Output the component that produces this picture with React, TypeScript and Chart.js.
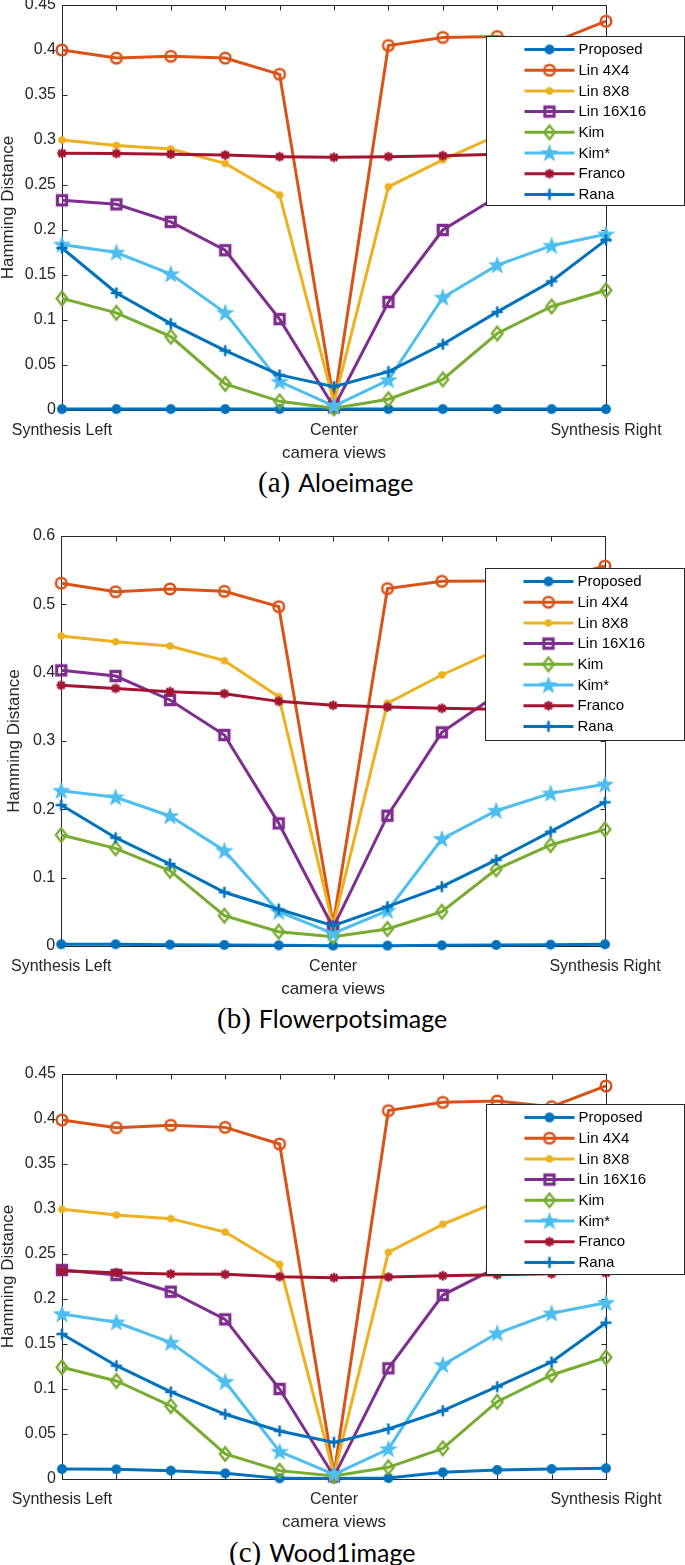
import React, { useEffect, useRef } from 'react';
import { Chart, registerables } from 'chart.js';

Chart.register(...registerables);

// ---------- data ----------
const viewLabels = ['Synthesis Left', '', '', '', '', 'Center', '', '', '', '', 'Synthesis Right'];
const seriesNames = ['Proposed', 'Lin 4X4', 'Lin 8X8', 'Lin 16X16', 'Kim', 'Kim*', 'Franco', 'Rana'];
const seriesColors = ['#0072BD', '#D95319', '#EDB120', '#7E2F8E', '#77AC30', '#4DBEEE', '#A2142F', '#0072BD'];
const seriesMarkers = ['dot', 'ring', 'smalldot', 'square', 'diamond', 'pentagram', 'asterisk', 'plus'];

// (a) Aloeimage
const aloeProposed = [0.001, 0.001, 0.001, 0.001, 0.001, 0.001, 0.001, 0.001, 0.001, 0.001, 0.001];
const aloeLin4 = [0.4, 0.391, 0.393, 0.391, 0.373, 0.008, 0.405, 0.414, 0.415, 0.408, 0.432];
const aloeLin8 = [0.3, 0.294, 0.29, 0.274, 0.239, 0.008, 0.248, 0.278, 0.305, 0.315, 0.322];
const aloeLin16 = [0.233, 0.2285, 0.209, 0.1775, 0.101, 0.003, 0.12, 0.2, 0.237, 0.24, 0.243];
const aloeKim = [0.124, 0.108, 0.0815, 0.029, 0.0096, 0.002, 0.012, 0.034, 0.085, 0.115, 0.133];
const aloeKimStar = [0.184, 0.175, 0.151, 0.108, 0.0315, 0.0044, 0.0333, 0.125, 0.161, 0.1826, 0.1952];
const aloeFranco = [0.2852, 0.285, 0.2841, 0.2833, 0.2815, 0.2807, 0.2815, 0.2826, 0.2841, 0.285, 0.286];
const aloeRana = [0.18, 0.13, 0.096, 0.066, 0.039, 0.026, 0.0426, 0.073, 0.109, 0.143, 0.189];

// (b) Flowerpotsimage
const flowerProposed = [0.0025, 0.0025, 0.002, 0.0015, 0.001, 0.0005, 0.0005, 0.001, 0.0015, 0.002, 0.0025];
const flowerLin4 = [0.531, 0.5185, 0.5225, 0.519, 0.4966, 0.032, 0.523, 0.5337, 0.534, 0.535, 0.556];
const flowerLin8 = [0.4537, 0.4454, 0.439, 0.4176, 0.3649, 0.03, 0.3552, 0.3966, 0.433, 0.445, 0.455];
const flowerLin16 = [0.4034, 0.3951, 0.36, 0.3088, 0.1795, 0.027, 0.1907, 0.3127, 0.367, 0.39, 0.4];
const flowerKim = [0.1624, 0.1429, 0.1102, 0.0444, 0.021, 0.0137, 0.0249, 0.0502, 0.1122, 0.1478, 0.1707];
const flowerKimStar = [0.2273, 0.2176, 0.1903, 0.1395, 0.0502, 0.0185, 0.0517, 0.1566, 0.198, 0.2234, 0.2366];
const flowerFranco = [0.3815, 0.377, 0.3722, 0.3693, 0.358, 0.3522, 0.3498, 0.3478, 0.3464, 0.345, 0.344];
const flowerRana = [0.2063, 0.1585, 0.12, 0.0786, 0.0537, 0.0298, 0.0576, 0.0868, 0.1259, 0.1673, 0.2103];

// (c) Wood1image
const woodProposed = [0.0111, 0.0107, 0.0093, 0.0063, 0.0007, 0.0005, 0.001, 0.0074, 0.01, 0.0111, 0.0119];
const woodLin4 = [0.3989, 0.3904, 0.393, 0.3907, 0.3722, 0.005, 0.4093, 0.4185, 0.42, 0.4137, 0.4367];
const woodLin8 = [0.2996, 0.2933, 0.2893, 0.2744, 0.2385, 0.005, 0.2519, 0.283, 0.308, 0.315, 0.322];
const woodLin16 = [0.2322, 0.2267, 0.2081, 0.1774, 0.1, 0.003, 0.123, 0.2044, 0.235, 0.24, 0.243];
const woodKim = [0.1241, 0.1089, 0.0811, 0.0278, 0.0093, 0.0033, 0.013, 0.0341, 0.0859, 0.1156, 0.1352];
const woodKimStar = [0.1833, 0.1741, 0.1515, 0.1081, 0.0304, 0.0052, 0.0333, 0.1267, 0.1619, 0.1841, 0.1959];
const woodFranco = [0.2315, 0.2293, 0.2278, 0.2274, 0.2248, 0.2237, 0.2244, 0.2259, 0.227, 0.228, 0.229];
const woodRana = [0.1611, 0.1259, 0.0967, 0.0719, 0.0533, 0.0407, 0.0556, 0.0759, 0.1026, 0.13, 0.1737];

const aloeSeries = [aloeProposed, aloeLin4, aloeLin8, aloeLin16, aloeKim, aloeKimStar, aloeFranco, aloeRana];
const flowerSeries = [flowerProposed, flowerLin4, flowerLin8, flowerLin16, flowerKim, flowerKimStar, flowerFranco, flowerRana];
const woodSeries = [woodProposed, woodLin4, woodLin8, woodLin16, woodKim, woodKimStar, woodFranco, woodRana];

const aloeYMax = 0.45;
const aloeYStep = 0.05;
const flowerYMax = 0.6;
const flowerYStep = 0.1;
const woodYMax = 0.45;
const woodYStep = 0.05;

const xAxisTitle = 'camera views';
const yAxisTitle = 'Hamming Distance';

// ---------- styling helpers ----------
const FONT = "'Liberation Sans', Arial, Helvetica, sans-serif";
const AXIS_COLOR = '#262626';

function makeMarker(kind: string, color: string): HTMLCanvasElement {
  const size = 24;
  const c = document.createElement('canvas');
  c.width = size;
  c.height = size;
  const g = c.getContext('2d') as CanvasRenderingContext2D;
  const m = size / 2;
  g.strokeStyle = color;
  g.fillStyle = color;
  g.beginPath();
  if (kind === 'dot') {
    g.arc(m, m, 5, 0, Math.PI * 2);
    g.fill();
  } else if (kind === 'ring') {
    g.lineWidth = 2.5;
    g.arc(m, m, 5.3, 0, Math.PI * 2);
    g.stroke();
  } else if (kind === 'smalldot') {
    g.arc(m, m, 3.8, 0, Math.PI * 2);
    g.fill();
  } else if (kind === 'square') {
    g.lineWidth = 3.2;
    g.rect(m - 4.6, m - 4.6, 9.2, 9.2);
    g.stroke();
  } else if (kind === 'diamond') {
    g.lineWidth = 2.3;
    g.moveTo(m, m - 6.8);
    g.lineTo(m + 5.4, m);
    g.lineTo(m, m + 6.8);
    g.lineTo(m - 5.4, m);
    g.closePath();
    g.stroke();
  } else if (kind === 'pentagram') {
    for (let k = 0; k < 10; k++) {
      const ang = -Math.PI / 2 + (k * Math.PI) / 5;
      const r = k % 2 === 0 ? 9.8 : 3.9;
      const px = m + r * Math.cos(ang);
      const py = m + 0.5 + r * Math.sin(ang);
      if (k === 0) g.moveTo(px, py);
      else g.lineTo(px, py);
    }
    g.closePath();
    g.fill();
  } else if (kind === 'asterisk') {
    g.lineWidth = 2.4;
    const a = 4.8;
    const d = a * 0.72;
    g.moveTo(m - a, m);
    g.lineTo(m + a, m);
    g.moveTo(m, m - a);
    g.lineTo(m, m + a);
    g.moveTo(m - d, m - d);
    g.lineTo(m + d, m + d);
    g.moveTo(m - d, m + d);
    g.lineTo(m + d, m - d);
    g.stroke();
  } else if (kind === 'plus') {
    g.lineWidth = 2.6;
    const a = 5.6;
    g.moveTo(m - a, m);
    g.lineTo(m + a, m);
    g.moveTo(m, m - a);
    g.lineTo(m, m + a);
    g.stroke();
  }
  return c;
}

const framePlugin = {
  id: 'matlabFrame',
  beforeDatasetsDraw(chart: any) {
    const { ctx, chartArea: a, scales } = chart;
    ctx.save();
    ctx.strokeStyle = AXIS_COLOR;
    ctx.lineWidth = 1;
    const L = Math.round(a.left) + 0.5;
    const T = Math.round(a.top) + 0.5;
    const R = Math.round(a.right) + 0.5;
    const B = Math.round(a.bottom) + 0.5;
    ctx.beginPath();
    ctx.rect(L, T, R - L, B - T);
    const tl = 5;
    for (let i = 0; i < viewLabels.length; i++) {
      const x = Math.round(scales.x.getPixelForValue(i)) + 0.5;
      ctx.moveTo(x, B);
      ctx.lineTo(x, B - tl);
      ctx.moveTo(x, T);
      ctx.lineTo(x, T + tl);
    }
    scales.y.ticks.forEach((t: any) => {
      const y = Math.round(scales.y.getPixelForValue(t.value)) + 0.5;
      ctx.moveTo(L, y);
      ctx.lineTo(L + tl, y);
      ctx.moveTo(R, y);
      ctx.lineTo(R - tl, y);
    });
    ctx.stroke();
    ctx.restore();
  },
};

function makeLegendPlugin(markers: HTMLCanvasElement[], dx: number, dy: number, h: number) {
  return {
    id: 'boxLegend',
    afterDraw(chart: any) {
      const { ctx, chartArea: a } = chart;
      const L = Math.round(a.right + dx) + 0.5;
      const T = Math.round(a.top + dy) + 0.5;
      const R = 684.5;
      const B = T + h;
      ctx.save();
      ctx.fillStyle = '#ffffff';
      ctx.fillRect(L, T, R - L, B - T);
      ctx.strokeStyle = AXIS_COLOR;
      ctx.lineWidth = 1;
      ctx.strokeRect(L, T, R - L, B - T);
      ctx.font = `15px ${FONT}`;
      ctx.textBaseline = 'middle';
      ctx.textAlign = 'left';
      seriesNames.forEach((name, i) => {
        const y = T + 13 + i * 20.7;
        ctx.strokeStyle = seriesColors[i];
        ctx.lineWidth = 3;
        ctx.beginPath();
        ctx.moveTo(L + 38, y);
        ctx.lineTo(L + 88, y);
        ctx.stroke();
        const mk = markers[i];
        ctx.drawImage(mk, L + 63 - mk.width / 2, y - mk.height / 2);
        ctx.fillStyle = '#000000';
        ctx.fillText(name, L + 92, y + 0.5);
      });
      ctx.restore();
    },
  };
}

type PanelProps = {
  series: number[][];
  yMax: number;
  yStep: number;
  plotLeft: number;
  plotRight: number;
  plotTop: number;
  plotBottom: number;
  legendDy: number;
  legendH: number;
};

const TOP_PAD = 20;
const X_AXIS_H = 56;

function ChartPanel(props: PanelProps) {
  const ref = useRef<HTMLCanvasElement | null>(null);
  const { series, yMax, yStep, plotLeft, plotRight, plotTop, plotBottom, legendDy, legendH } = props;
  const canvasH = TOP_PAD + (plotBottom - plotTop) + X_AXIS_H;

  useEffect(() => {
    if (!ref.current) return;
    const markers = seriesMarkers.map((k, i) => makeMarker(k, seriesColors[i]));
    const chart = new Chart(ref.current, {
      type: 'line',
      data: {
        labels: viewLabels,
        datasets: seriesNames.map((name, i) => ({
          label: name,
          data: series[i],
          borderColor: seriesColors[i],
          backgroundColor: seriesColors[i],
          borderWidth: 3,
          pointStyle: markers[i] as any,
          pointRadius: 5,
          pointHoverRadius: 5,
          tension: 0,
          fill: false,
          clip: false as any,
          order: seriesNames.length - 1 - i,
        })),
      },
      options: {
        responsive: false,
        animation: false,
        devicePixelRatio: 1,
        events: [],
        layout: { padding: { top: TOP_PAD, left: 0, right: 685 - plotRight, bottom: 0 } },
        plugins: {
          legend: { display: false },
          tooltip: { enabled: false },
        },
        scales: {
          x: {
            type: 'category',
            offset: false,
            grid: { display: false, drawTicks: false },
            border: { display: false },
            ticks: {
              autoSkip: false,
              maxRotation: 0,
              minRotation: 0,
              padding: 11,
              color: AXIS_COLOR,
              font: { family: FONT, size: 16 },
            },
            title: {
              display: true,
              text: xAxisTitle,
              color: AXIS_COLOR,
              font: { family: FONT, size: 17 },
              padding: { top: 0, bottom: 2 },
            },
            afterFit: (s: any) => {
              s.height = X_AXIS_H;
            },
          },
          y: {
            min: 0,
            max: yMax,
            grid: { display: false, drawTicks: false },
            border: { display: false },
            ticks: {
              stepSize: yStep,
              padding: 6,
              color: AXIS_COLOR,
              font: { family: FONT, size: 16 },
              callback: (v: any) => String(Math.round(Number(v) * 100) / 100),
            },
            title: {
              display: true,
              text: yAxisTitle,
              color: AXIS_COLOR,
              font: { family: FONT, size: 17, lineHeight: 1 },
              padding: 0,
            },
            afterFit: (s: any) => {
              s.width = plotLeft;
            },
          },
        },
      } as any,
      plugins: [framePlugin, makeLegendPlugin(markers, -120, legendDy, legendH)],
    });
    return () => chart.destroy();
  }, []);

  return (
    <canvas
      ref={ref}
      width={685}
      height={canvasH}
      style={{ position: 'absolute', left: 0, top: plotTop - TOP_PAD, width: 685, height: canvasH }}
    />
  );
}

function Caption(props: { tag: string; name: string; left: number; centerY: number }) {
  return (
    <div
      style={{
        position: 'absolute',
        left: props.left,
        top: props.centerY - 16,
        height: 32,
        lineHeight: '32px',
        whiteSpace: 'nowrap',
        color: '#000',
      }}
    >
      <span style={{ fontFamily: "'Liberation Serif', 'Times New Roman', serif", fontSize: 29 }}>{props.tag}</span>
      <span style={{ fontFamily: "Lato, 'Open Sans', sans-serif", fontSize: 25, marginLeft: 8 }}>{props.name}</span>
    </div>
  );
}

export default function App() {
  return (
    <div
      style={{
        position: 'absolute',
        left: 0,
        top: 0,
        width: 685,
        height: 1565,
        overflow: 'hidden',
        background: '#ffffff',
      }}
    >
      <ChartPanel
        series={aloeSeries}
        yMax={aloeYMax}
        yStep={aloeYStep}
        plotLeft={62}
        plotRight={606}
        plotTop={5}
        plotBottom={410}
        legendDy={31}
        legendH={169}
      />
      <Caption tag="(a)" name="Aloeimage" left={258} centerY={482} />
      <ChartPanel
        series={flowerSeries}
        yMax={flowerYMax}
        yStep={flowerYStep}
        plotLeft={55}
        plotRight={605}
        plotTop={536}
        plotBottom={946}
        legendDy={32}
        legendH={172}
      />
      <Caption tag="(b)" name="Flowerpotsimage" left={217} centerY={1018} />
      <ChartPanel
        series={woodSeries}
        yMax={woodYMax}
        yStep={woodYStep}
        plotLeft={62}
        plotRight={606}
        plotTop={1074}
        plotBottom={1479}
        legendDy={30}
        legendH={170}
      />
      <Caption tag="(c)" name="Wood1image" left={229} centerY={1552} />
    </div>
  );
}
